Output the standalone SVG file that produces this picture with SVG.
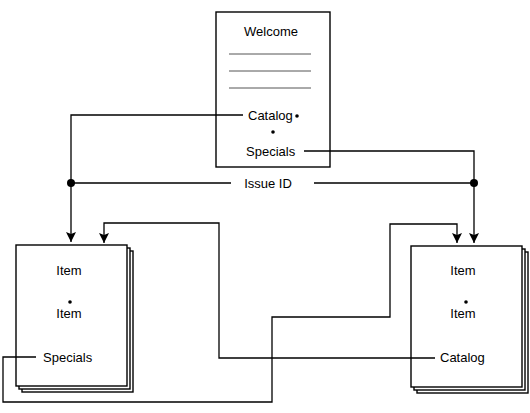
<svg xmlns="http://www.w3.org/2000/svg" width="530" height="413" viewBox="0 0 530 413">
<style>
text{font-family:"Liberation Sans",Arial,sans-serif;font-size:13px;fill:#000}
.pg{fill:#fff;stroke:#000;stroke-width:1.4}
.rule{stroke:#555;stroke-width:1}
.c{fill:none;stroke:#000;stroke-width:1.3}
.d{fill:#000}
</style>
<defs>
<marker id="ad" markerUnits="userSpaceOnUse" markerWidth="10" markerHeight="12" viewBox="0 0 10 12" refX="5" refY="11" orient="0">
<path d="M0,1 L5,3 L10,1 L5,11 Z" fill="#000"/>
</marker>
</defs>
<g id="welcome">
<rect class="pg" x="216" y="12" width="114" height="155"/>
<text x="271" y="36" text-anchor="middle">Welcome</text>
<line class="rule" x1="229" y1="54" x2="311" y2="54"/>
<line class="rule" x1="229" y1="71" x2="311" y2="71"/>
<line class="rule" x1="229" y1="88" x2="311" y2="88"/>
<text x="248" y="120">Catalog</text>
<circle class="d" cx="297" cy="116" r="1.8"/>
<circle class="d" cx="273" cy="132" r="1.8"/>
<text x="246" y="156">Specials</text>
</g>
<g id="items-left">
<rect class="pg" x="22" y="251" width="111" height="141"/>
<rect class="pg" x="19" y="248" width="111" height="141"/>
<rect class="pg" x="16" y="245" width="111" height="141"/>
<text x="69" y="275" text-anchor="middle">Item</text>
<circle class="d" cx="70" cy="302" r="1.8"/>
<text x="69" y="318" text-anchor="middle">Item</text>
<text x="43" y="362">Specials</text>
</g>
<g id="items-right">
<rect class="pg" x="417" y="252" width="111" height="141"/>
<rect class="pg" x="414" y="249" width="111" height="141"/>
<rect class="pg" x="411" y="246" width="111" height="141"/>
<text x="463" y="275" text-anchor="middle">Item</text>
<circle class="d" cx="466" cy="302" r="1.8"/>
<text x="463" y="318" text-anchor="middle">Item</text>
<text x="440" y="362">Catalog</text>
</g>
<g id="connectors">
<path class="c" d="M243,115 H71 V242" marker-end="url(#ad)"/>
<path class="c" d="M304,151 H474 V243" marker-end="url(#ad)"/>
<path class="c" d="M71,183 H231 M314,183 H474"/>
<circle class="d" cx="71" cy="183" r="4"/>
<circle class="d" cx="474" cy="183" r="4"/>
<text x="268" y="188" text-anchor="middle">Issue ID</text>
<path class="c" d="M435,358 H219 V223 H104 V243" marker-end="url(#ad)"/>
<path class="c" d="M36,357 H3 V402 H272 V317 H390 V224 H457 V243" marker-end="url(#ad)"/>
</g>
</svg>
